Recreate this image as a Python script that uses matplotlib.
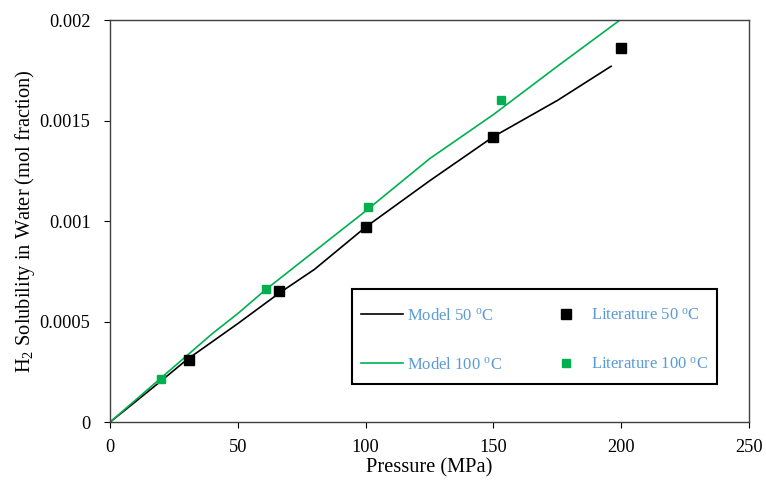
import matplotlib
matplotlib.use("Agg")
import matplotlib.pyplot as plt
from matplotlib.patches import Rectangle
import numpy as np

# model curves
model50_p = [0, 10, 20, 30, 40, 50, 66, 80, 100, 125, 150, 175, 196]
model50_x = [0, 0.000102, 0.000205, 0.00031, 0.0004, 0.00049, 0.00064, 0.00076, 0.00097,
             0.0012, 0.00142, 0.0016, 0.00177]
model100_p = [0, 10, 20, 30, 40, 50, 61, 80, 100, 125, 150, 175, 199.5]
model100_x = [0, 0.00011, 0.00022, 0.00033, 0.00044, 0.00054, 0.00066, 0.00085, 0.00105,
              0.00131, 0.00153, 0.00177, 0.002]

# literature points
lit50_p = [31, 66, 100, 150, 200]
lit50_x = [0.00031, 0.00065, 0.00097, 0.00142, 0.00186]
lit100_p = [20, 61, 101, 153]
lit100_x = [0.000215, 0.00066, 0.00107, 0.0016]

yticks = [0, 0.0005, 0.001, 0.0015, 0.002]
yticklabels = ["0", "0.0005", "0.001", "0.0015", "0.002"]
xticks = [0, 50, 100, 150, 200, 250]

GREEN = "#00B050"
LEG_TEXT = "#5B9BD5"

plt.rcParams.update({
    "font.family": ["Liberation Serif", "DejaVu Serif"],
    "font.size": 13.2,
    "mathtext.fontset": "custom",
    "mathtext.rm": "Liberation Serif",
    "mathtext.it": "Liberation Serif:italic",
    "axes.linewidth": 1.0,
})

fig = plt.figure(figsize=(7.66, 4.88), dpi=100)
ax = fig.add_axes([0.1436, 0.135, 0.8344, 0.824])

l1, = ax.plot(model50_p, model50_x, color="black", lw=1.2, label=r"Model 50 $^{\rm o}$C")
l2, = ax.plot(model100_p, model100_x, color=GREEN, lw=1.2, label=r"Model 100 $^{\rm o}$C")
m1, = ax.plot(lit50_p, lit50_x, "s", color="black", ms=7, ls="none", label=r"Literature 50 $^{\rm o}$C")
m2, = ax.plot(lit100_p, lit100_x, "s", color=GREEN, ms=5.5, ls="none", label=r"Literature 100 $^{\rm o}$C")

ax.set_xlim(0, 250)
ax.set_ylim(0, 0.002)
ax.set_xticks(xticks)
ax.set_yticks(yticks)
ax.set_yticklabels(yticklabels)
ax.tick_params(direction="out", length=4, width=0.8, labelsize=13.2)
ax.tick_params(axis="y", pad=10)
ax.tick_params(axis="x", pad=8)
ax.set_xlabel("Pressure (MPa)", fontsize=14.7, labelpad=2)
ax.set_ylabel(r"H$_2$ Solubility in Water (mol fraction)", fontsize=14.7, labelpad=2)
for s in ax.spines.values():
    s.set_color("#404040")

# legend box drawn separately so it can be taller than the entries need
ax.add_patch(Rectangle((0.379, 0.0945), 0.571, 0.2365, transform=ax.transAxes,
                       facecolor="white", edgecolor="black", lw=1.5, zorder=4.5))
leg = ax.legend(handles=[l1, l2, m1, m2], ncol=2, loc="lower left",
                bbox_to_anchor=(0.379, 0.0995, 0.571, 0.2365), mode="expand",
                frameon=False, fontsize=12,
                handlelength=2.5, handletextpad=0.25, labelspacing=2.0,
                columnspacing=2.0, borderaxespad=0, borderpad=0.55)
for t in leg.get_texts():
    t.set_color(LEG_TEXT)

fig.savefig("out.png", dpi=100)
